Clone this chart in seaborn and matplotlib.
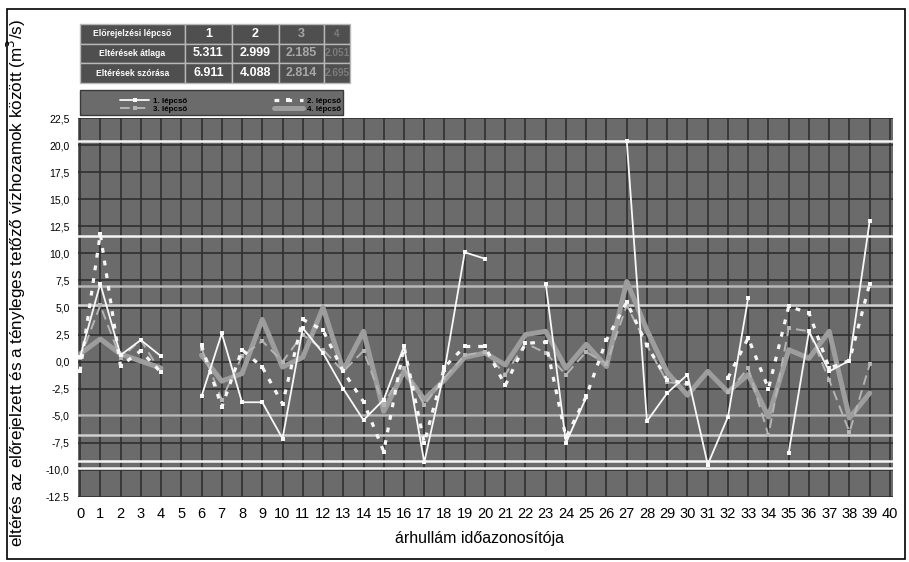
import numpy as np
import pandas as pd
import matplotlib
matplotlib.use("Agg")
import matplotlib.pyplot as plt
import seaborn as sns
from matplotlib.lines import Line2D
from matplotlib.patches import Rectangle

nan = np.nan

# flood-wave identifiers on the x axis
wave_ids = list(range(40))

# forecast deviations (m3/s) for the four forecast steps
step1 = [0.4, 7.2, 0.6, 2.0, 0.5, nan, -3.2, 2.6, -3.75, -3.75,
         -7.1, 3.1, 0.8, -2.5, -5.4, -3.5, 1.4, -9.3, -0.8, 10.1,
         9.5, nan, nan, 7.2, -7.5, -3.3, nan, 20.4, -5.5, -2.9,
         -1.2, -9.5, -5.1, 5.9, nan, -8.4, 2.8, -0.9, 0.1, 13.0]
step2 = [-0.9, 11.8, -0.4, 1.0, -1.0, nan, 1.5, -4.2, 1.1, -0.5,
         -3.9, 3.9, 2.9, -0.9, -3.7, -8.3, 1.4, -7.5, -0.5, 1.4,
         1.4, -2.2, 1.7, 1.8, -7.0, -3.2, 2.0, 5.5, 1.5, -1.7,
         -2.0, nan, -1.5, 2.2, -2.5, 5.1, 4.5, -0.6, 0.1, 7.2]
step3 = [0.3, 5.2, 0.3, 2.0, -1.0, nan, 1.2, -3.5, 0.5, 1.9,
         0.0, 2.5, 1.1, -0.9, 1.0, -4.0, -0.6, -4.0, -1.5, 0.6,
         0.9, -1.2, 1.7, 0.8, -1.2, 0.9, -0.2, 5.2, 1.5, -1.9,
         -2.1, nan, -2.8, -0.6, -6.8, 3.1, 2.8, -1.7, -6.5, -0.25]
step4 = [0.7, 2.1, 0.7, 0.05, -0.6, nan, 0.6, -1.8, -1.1, 3.9,
         -0.5, 0.4, 5.0, -0.8, 2.8, -4.6, -0.9, -3.5, -1.7, 0.4,
         0.8, -0.3, 2.5, 2.8, -0.6, 1.6, -0.45, 7.4, 2.9, -1.0,
         -3.1, -0.9, -2.8, -1.2, -5.1, 1.1, 0.3, 2.8, -5.2, -2.9]

series_names = ["1. lépcső", "2. lépcső", "3. lépcső", "4. lépcső"]

# horizontal reference levels and their shades
level_values = [20.4, 11.6, 7.0, 5.2, -4.9, -6.8, -9.2, -9.8]
level_colors = ["#f4f4f4", "#f4f4f4", "#b8b8b8", "#d0d0d0",
                "#b8b8b8", "#d0d0d0", "#f4f4f4", "#f4f4f4"]

# summary table
table_header = ["Előrejelzési lépcső", "1", "2", "3", "4"]
mean_row = ["Eltérések átlaga", "5.311", "2.999", "2.185", "2.051"]
std_row = ["Eltérések szórása", "6.911", "4.088", "2.814", "2.695"]

y_ticks = [-12.5, -10.0, -7.5, -5.0, -2.5, 0.0, 2.5, 5.0, 7.5, 10.0,
           12.5, 15.0, 17.5, 20.0, 22.5]
y_tick_labels = ["-12.5", "-10,0", "-7,5", "-5,0", "-2,5", "0,0", "2,5",
                 "5,0", "7,5", "10,0", "12,5", "15,0", "17,5", "20,0", "22,5"]

sns.set_theme(style="dark")
plt.rcParams["font.family"] = ["Liberation Sans", "DejaVu Sans"]

W, H = 909, 562
fig = plt.figure(figsize=(W / 100, H / 100), dpi=100)
fig.patch.set_facecolor("white")

ax = fig.add_axes([78 / W, 1 - 497 / H, 815 / W, 379 / H])
ax.set_facecolor("#6b6b6b")

# long table; a new segment starts after every missing value
frames = []
for name, vals in zip(series_names, [step1, step2, step3, step4]):
    s = pd.Series(vals, dtype=float)
    frames.append(pd.DataFrame({"x": wave_ids, "v": s,
                                "series": name,
                                "seg": s.isna().cumsum()}))
df = pd.concat(frames, ignore_index=True).dropna(subset=["v"])

styles = {
    "4. lépcső": dict(color="#9d9d9d", lw=3.6, linestyle="-", marker=None, zorder=3),
    "3. lépcső": dict(color="#b4b4b4", lw=1.4, linestyle=(0, (5, 3)), marker="s",
                      markersize=2.5, zorder=4),
    "2. lépcső": dict(color="#f6f6f6", lw=2.3, linestyle=(0, (1.5, 2.5)), marker="s",
                      markersize=3, zorder=5),
    "1. lépcső": dict(color="#f8f8f8", lw=1.3, linestyle="-", marker="s",
                      markersize=3.5, zorder=6),
}

for lv, lc in zip(level_values, level_colors):
    ax.axhline(lv, color=lc, lw=1.8, zorder=2)

for name in ["4. lépcső", "3. lépcső", "2. lépcső", "1. lépcső"]:
    st = dict(styles[name])
    z = st.pop("zorder")
    sub = df[df["series"] == name]
    sns.lineplot(data=sub, x="x", y="v", units="seg", estimator=None,
                 ax=ax, legend=False, zorder=z, markeredgewidth=0, **st)

ax.set_xlim(-0.1, 40.15)
ax.set_ylim(-12.5, 22.5)
ax.set_xticks(range(0, 41))
ax.set_xticklabels([str(i) for i in range(0, 41)], fontsize=10.5)
ax.set_yticks(y_ticks)
ax.set_yticklabels(y_tick_labels, fontsize=7.5)
ax.tick_params(axis="both", length=0, colors="black")
ax.tick_params(axis="x", pad=7)
ax.tick_params(axis="y", pad=6)
ax.grid(True, color="#2f2f2f", lw=1.2, zorder=1)
ax.set_axisbelow(True)
for sp in ax.spines.values():
    sp.set_visible(False)

ax.set_xlabel("árhullám időazonosítója", fontsize=11.5, color="black")
ax.xaxis.set_label_coords(0.493, -0.09)
ax.set_ylabel("eltérés az előrejelzett és a tényleges tetőző vízhozamok között (m$^3$/s)",
              fontsize=12.3, color="black")
ax.yaxis.set_label_coords(-0.061, 0.566)

# legend box: grey panel with a frameless two-column legend inside
fig.add_artist(Rectangle((80 / W, 1 - 115 / H), 263 / W, 25 / H,
                         transform=fig.transFigure, facecolor="#6b6b6b",
                         edgecolor="#3a3a3a", lw=1.0, zorder=1))
handles = []
for name in series_names:
    st = dict(styles[name])
    st.pop("zorder")
    handles.append(Line2D([], [], markeredgewidth=0, **st))
order = [0, 2, 1, 3]
leg = fig.legend([handles[i] for i in order], [series_names[i] for i in order],
                 ncol=2, loc="lower left",
                 bbox_to_anchor=(118 / W, 1 - 115 / H, 225 / W, 25 / H),
                 mode="expand", frameon=False,
                 prop={"size": 5.8, "weight": "bold"}, borderpad=0.25,
                 labelspacing=0.05, handlelength=3.6, handletextpad=0.5,
                 borderaxespad=0)
leg.set_zorder(2)
for t in leg.get_texts():
    t.set_color("black")

# summary table
tab_ax = fig.add_axes([80 / W, 1 - 83 / H, 270 / W, 59 / H])
tab_ax.axis("off")
tbl = tab_ax.table(cellText=[table_header, mean_row, std_row],
                   bbox=[0, 0, 1, 1],
                   colWidths=[105, 47, 47, 45, 26])
tbl.auto_set_font_size(False)
col_colors = ["white", "white", "white", "#a8a8a8", "#7c7c7c"]
for (r, c), cell in tbl.get_celld().items():
    cell.set_facecolor("#4f4f4f")
    cell.set_edgecolor("#b8b8b8")
    cell.set_linewidth(1.0)
    cell.PAD = 0.02
    txt = cell.get_text()
    txt.set_color(col_colors[c])
    txt.set_weight("bold")
    txt.set_fontsize(6.2 if c == 0 else (7.2 if c == 4 else 9))
    cell.set_text_props(ha="center")

# outer frame
fig.add_artist(Rectangle((7 / W, 3 / H), 898 / W, 550 / H,
                         transform=fig.transFigure, fill=False,
                         ec="black", lw=1.2))

fig.savefig("out.png", dpi=100)
